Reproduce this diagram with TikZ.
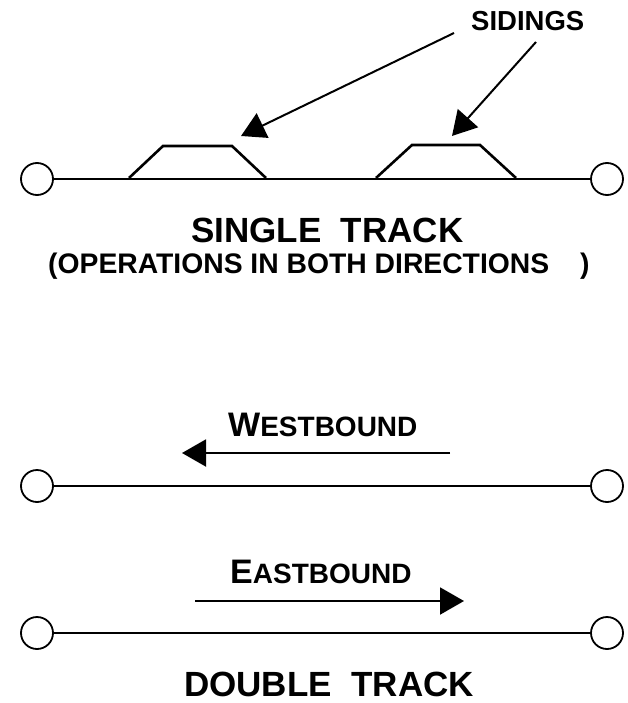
\documentclass[tikz,border=0pt]{standalone}
\usepackage{fontspec}
\setmainfont{Liberation Sans}
\usetikzlibrary{arrows.meta}
\tikzset{
  station/.style={draw, circle, minimum size=32pt, inner sep=0pt, line width=1.8pt, fill=white},
  trackline/.style={line width=2.6pt},
  dtrack/.style={line width=2pt},
  pointer/.style={line width=2pt, -{Triangle[length=24pt, width=27pt]}},
  label/.style={anchor=base west, inner sep=0pt, font=\bfseries}
}
\begin{document}
\begin{tikzpicture}[x=1pt,y=-1pt]
\useasboundingbox (0,0) rectangle (627,703);
% single track
\node[station] (s1) at (37,179) {};
\node[station] (s2) at (607,179) {};
\draw[trackline] (s1.east) -- (s2.west);
\draw[trackline, line join=miter] (129,178) -- (163,146) -- (232,146) -- (266,178);
\draw[trackline, line join=miter] (376,178) -- (412,145) -- (480,145) -- (516,178);
\node[label] (sid) at (471,31) {\fontsize{27.5}{30}\selectfont SIDINGS};
\coordinate (a1s) at (454,33);
\coordinate (a1e) at (241,136);
\coordinate (a2s) at (536,42);
\coordinate (a2e) at (452,136);
\draw[pointer] (a1s) -- (a1e);
\draw[pointer] (a2s) -- (a2e);
\node[label] (single) at (191,242) {\fontsize{35}{38}\selectfont SINGLE\ \ TRACK};
\node[label] (ops) at (48,273) {\fontsize{28.3}{32}\selectfont (OPERATIONS IN BOTH DIRECTIONS\hspace{31pt})};
% double track
\node[label] (west) at (228,436) {\fontsize{34}{38}\selectfont W\fontsize{28}{32}\selectfont ESTBOUND};
\coordinate (wbs) at (450,453);
\coordinate (wbe) at (182,453);
\draw[pointer] (wbs) -- (wbe);
\node[station] (w1) at (37,486) {};
\node[station] (w2) at (607,486) {};
\draw[dtrack] (w1.east) -- (w2.west);
\node[label] (east) at (230,583) {\fontsize{34}{38}\selectfont E\fontsize{28}{32}\selectfont ASTBOUND};
\coordinate (ebs) at (195,601);
\coordinate (ebe) at (464,601);
\draw[pointer] (ebs) -- (ebe);
\node[station] (e1) at (37,633) {};
\node[station] (e2) at (607,633) {};
\draw[dtrack] (e1.east) -- (e2.west);
\node[label] (double) at (184,696.5) {\fontsize{35}{38}\selectfont DOUBLE\ \ TRACK};
\end{tikzpicture}
\end{document}
